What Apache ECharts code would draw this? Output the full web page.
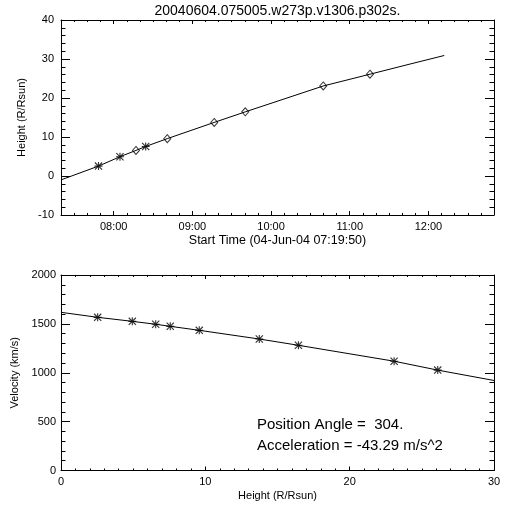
<!DOCTYPE html>
<html><head><meta charset="utf-8">
<script src="https://cdn.jsdelivr.net/npm/echarts@6/dist/echarts.min.js"></script>
<style>html,body{margin:0;padding:0;background:#fff}#c{width:512px;height:512px}</style>
</head><body><div id="c"></div>
<script>
// ---------------- data ----------------
const titleText = '20040604.075005.w273p.v1306.p302s.';
const startTime = '07:19:50';
const endTime = '12:50:00';
const xTitleTop = 'Start Time (04-Jun-04 07:19:50)';
const yTitleTop = 'Height (R/Rsun)';
const xTitleBottom = 'Height (R/Rsun)';
const yTitleBottom = 'Velocity (km/s)';
const annotations = ['Position Angle =  304.', 'Acceleration = -43.29 m/s^2'];

// observed height-time points
const obsTimes   = ['07:48:25','08:04:48','08:17:00','08:24:25','08:40:52','09:16:40','09:40:20','10:39:47','11:15:25'];
const obsHeights = [2.54, 4.94, 6.56, 7.57, 9.58, 13.74, 16.45, 23.08, 26.1];
const obsMarkers = ['star','star','diamond','star','diamond','diamond','diamond','diamond','diamond'];

// fitted height-time curve
const fitTimes   = ['07:19:50','07:48:25','08:04:48','08:17:00','08:24:25','08:40:52','09:16:40','09:40:20','10:39:47','11:15:25','11:45:54','12:12:04'];
const fitHeights = [-1.0, 2.54, 4.94, 6.56, 7.57, 9.58, 13.74, 16.45, 23.08, 26.1, 28.7, 30.9];

// velocity vs height
const velHeights = [2.54, 4.94, 6.56, 7.57, 9.58, 13.74, 16.45, 23.08, 26.1];
const velValues  = [1567, 1526, 1496, 1475, 1434, 1345, 1281, 1118, 1027];
const velFitHeights = [0, 2.54, 4.94, 6.56, 7.57, 9.58, 13.74, 16.45, 23.08, 26.1, 30];
const velFitValues  = [1618, 1567, 1526, 1496, 1475, 1434, 1345, 1281, 1118, 1027, 921];

// tick labels
const timeTickLabels = ['08:00','09:00','10:00','11:00','12:00'];
const heightTickLabels = [-10, 0, 10, 20, 30, 40];
const hTickLabels = [0, 10, 20, 30];
const velTickLabels = [0, 500, 1000, 1500, 2000];

// ---------------- helpers ----------------
const FONT = 'Liberation Sans';
function toH(s){ const p = s.split(':').map(Number); return p[0] + p[1]/60 + (p[2]||0)/3600; }
function range(a, b, step){ const r=[]; for(let v=a; v<=b+1e-9; v+=step) r.push(+v.toFixed(6)); return r; }
function fmtTime(v){ const m = Math.round(v*60); const h = Math.floor(m/60), mm = m%60; return String(h).padStart(2,'0')+':'+String(mm).padStart(2,'0'); }
function plain(v){ return String(v); }

const tMin = toH(startTime), tMax = toH(endTime);
const timeMajors = timeTickLabels.map(toH);
const timeMinors = range(7*60+20, 12*60+50, 10).filter(m => m % 60 !== 0).map(m => m/60);

const line = {color:'#000', width:1};
function axisSet(dim, gi, min, max, majors, minors, majLen, minLen, label, extra){
  const pos = dim === 'x' ? ['bottom','top'] : ['left','right'];
  const base = (p, showLine, ticks, len, lab) => ({
    type:'value', gridIndex:gi, position:p, min:min, max:max,
    splitLine:{show:false},
    axisLine:{show:showLine, onZero:false, lineStyle:line},
    axisTick:{show:true, inside:true, length:len, customValues:ticks, lineStyle:line},
    axisLabel: lab || {show:false}
  });
  const a0 = Object.assign(base(pos[0], true, majors, majLen, label), extra || {});
  return [a0, base(pos[0], false, minors, minLen), base(pos[1], true, majors, majLen), base(pos[1], false, minors, minLen)];
}
const labStyle = {show:true, color:'#000', fontFamily:FONT, fontSize:11};
const nameStyle = {color:'#000', fontFamily:FONT, fontSize:11};

const xAxes = [].concat(
  axisSet('x', 0, tMin, tMax, timeMajors, timeMinors, 4, 2,
    Object.assign({}, labStyle, {margin:6, customValues:timeMajors, formatter:fmtTime}),
    {name:xTitleTop, nameLocation:'middle', nameGap:19, nameTextStyle:Object.assign({}, nameStyle, {fontSize:12.5})}),
  axisSet('x', 1, 0, 30, hTickLabels, range(0,30,1).filter(v => v % 10 !== 0), 4, 2,
    Object.assign({}, labStyle, {margin:6, customValues:hTickLabels, formatter:plain}),
    {name:xTitleBottom, nameLocation:'middle', nameGap:20, nameTextStyle:nameStyle})
);
const yAxes = [].concat(
  axisSet('y', 0, -10, 40, heightTickLabels, range(-10,40,2).filter(v => v % 10 !== 0), 9, 4.5,
    Object.assign({}, labStyle, {margin:7, customValues:heightTickLabels, formatter:plain}),
    {name:yTitleTop, nameLocation:'middle', nameGap:29, nameTextStyle:nameStyle}),
  axisSet('y', 1, 0, 2000, velTickLabels, range(0,2000,100).filter(v => v % 500 !== 0), 9, 4.5,
    Object.assign({}, labStyle, {margin:5, customValues:velTickLabels, formatter:plain}),
    {name:yTitleBottom, nameLocation:'middle', nameGap:33, nameTextStyle:nameStyle})
);

const ASTERISK = 'path://M4.3 0H5.7V10H4.3Z M0 4.3H10V5.7H0Z M1 0L10 9L9 10L0 1Z M9 0L10 1L1 10L0 9Z';

const starPts = [], diamondPts = [];
obsTimes.forEach((t, i) => {
  const p = [toH(t), obsHeights[i]];
  (obsMarkers[i] === 'star' ? starPts : diamondPts).push(p);
});

const annFont = '15px "'+FONT+'"';
const option = {
  animation:false,
  backgroundColor:'#fff',
  grid:[
    {left:61, right:18, top:20, height:195},
    {left:61, right:18, top:275, height:195.5}
  ],
  xAxis: xAxes,
  yAxis: yAxes,
  graphic:[
    {type:'text', x:277.5, y:11, style:{text:titleText, fill:'#000', font:'14px "'+FONT+'"', align:'center', verticalAlign:'middle'}},
    {type:'text', x:257, y:425, style:{text:annotations[0], fill:'#000', font:annFont, align:'left', verticalAlign:'middle'}},
    {type:'text', x:257, y:446, style:{text:annotations[1], fill:'#000', font:annFont, align:'left', verticalAlign:'middle'}}
  ],
  series:[
    {type:'line', xAxisIndex:0, yAxisIndex:0, showSymbol:false, symbol:'none',
     lineStyle:{color:'#000', width:1}, data: fitTimes.map((t,i) => [toH(t), fitHeights[i]])},
    {type:'scatter', xAxisIndex:0, yAxisIndex:0, symbol:ASTERISK, symbolSize:8,
     itemStyle:{color:'#000'}, data: starPts},
    {type:'scatter', xAxisIndex:0, yAxisIndex:0, symbol:'diamond', symbolSize:[7,8],
     itemStyle:{color:'rgba(255,255,255,0)', borderColor:'#000', borderWidth:1}, data: diamondPts},
    {type:'line', xAxisIndex:4, yAxisIndex:4, showSymbol:false, symbol:'none',
     lineStyle:{color:'#000', width:1}, data: velFitHeights.map((h,i) => [h, velFitValues[i]])},
    {type:'scatter', xAxisIndex:4, yAxisIndex:4, symbol:ASTERISK, symbolSize:8,
     itemStyle:{color:'#000'}, data: velHeights.map((h,i) => [h, velValues[i]])}
  ]
};
const chart = echarts.init(document.getElementById('c'), null, {renderer:'canvas'});
chart.setOption(option);
</script>
</body></html>
